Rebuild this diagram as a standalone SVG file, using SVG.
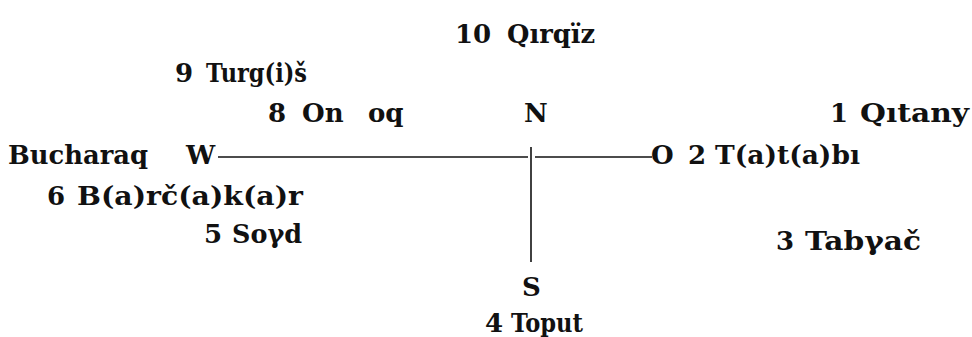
<svg xmlns="http://www.w3.org/2000/svg" width="972" height="337" viewBox="0 0 972 337">
<style>
text{font-family:"DejaVu Serif","Liberation Serif",serif;font-weight:bold;font-size:26px;fill:#111}
.ln{stroke:#111;stroke-width:1.6;fill:none}
</style>
<rect width="972" height="337" fill="#fff"/>
<g id="connectors">
<line class="ln" x1="218" y1="157" x2="528" y2="157"/>
<line class="ln" x1="535" y1="157" x2="652" y2="157"/>
<line class="ln" x1="531" y1="147" x2="531" y2="262"/>
</g>
<g id="n10"><text x="455" y="43">10</text><text x="507" y="43" textLength="88" lengthAdjust="spacingAndGlyphs">Qırqïz</text></g>
<g id="n9"><text x="175" y="82">9</text><text x="206" y="82" textLength="101" lengthAdjust="spacingAndGlyphs">Turg(i)š</text></g>
<g id="n8"><text x="268" y="122">8</text><text x="302" y="122">On</text><text x="368" y="122">oq</text></g>
<g id="north"><text x="524" y="122">N</text></g>
<g id="n1"><text x="830" y="122">1</text><text x="860" y="122" textLength="109" lengthAdjust="spacingAndGlyphs">Qıtany</text></g>
<g id="bucharaq"><text x="8" y="164" textLength="140" lengthAdjust="spacingAndGlyphs">Bucharaq</text></g>
<g id="west"><text x="186" y="164">W</text></g>
<g id="east"><text x="651" y="164">O</text></g>
<g id="n2"><text x="688" y="164">2</text><text x="715" y="164" textLength="145" lengthAdjust="spacingAndGlyphs">T(a)t(a)bı</text></g>
<g id="n6"><text x="47" y="205">6</text><text x="77" y="205" textLength="226" lengthAdjust="spacingAndGlyphs">B(a)rč(a)k(a)r</text></g>
<g id="n5"><text x="204" y="243">5</text><text x="232" y="243" textLength="70" lengthAdjust="spacingAndGlyphs">Soγd</text></g>
<g id="n3"><text x="776" y="250">3</text><text x="805" y="250" textLength="116" lengthAdjust="spacingAndGlyphs">Tabγač</text></g>
<g id="south"><text x="522" y="296">S</text></g>
<g id="n4"><text x="485" y="332">4</text><text x="511" y="332" textLength="72" lengthAdjust="spacingAndGlyphs">Toput</text></g>
</svg>
